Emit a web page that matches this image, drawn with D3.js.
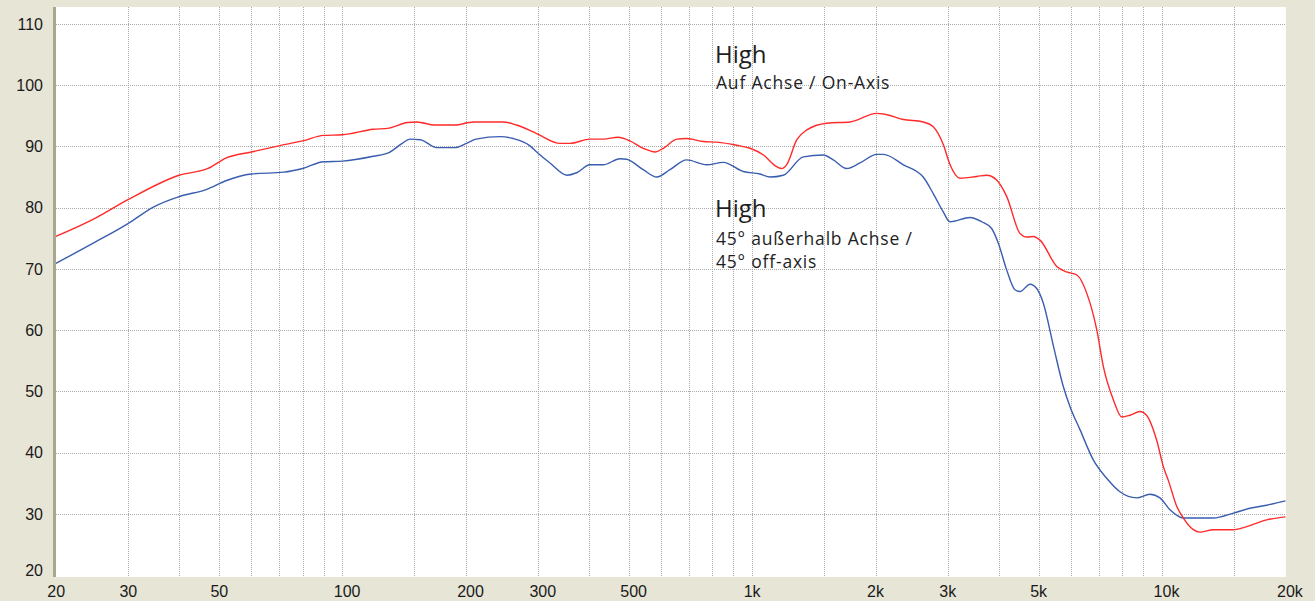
<!DOCTYPE html>
<html>
<head>
<meta charset="utf-8">
<script src="https://cdn.jsdelivr.net/npm/d3@7"></script>
<style>
  html, body { margin: 0; padding: 0; background: #e6e5d6; }
  svg { display: block; }
</style>
</head>
<body>
<div id="chart"></div>
<script>
// Frequency response - High, on-axis vs 45° off-axis

// on-axis (red)
const onAxisFreq = [20, 25, 30, 40, 47, 52, 60, 70, 80, 90, 100, 119, 130, 144, 152, 168, 188, 209, 247, 266, 298, 340, 359, 402, 433, 471, 503, 542, 580, 607, 655, 692, 760, 819, 916, 988, 1065, 1148, 1180, 1213, 1285, 1359, 1520, 1734, 2013, 2090, 2338, 2613, 2765, 2925, 3035, 3214, 3531, 3736, 3948, 4178, 4500, 4675, 4852, 5036, 5534, 5850, 6194, 6551, 6930, 7192, 7607, 7975, 8350, 8831, 9161, 9700, 10070, 10350, 10860, 11270, 11920, 12370, 13340, 14930, 16080, 17990, 20000];
const onAxisDb = [75.3, 78.3, 81.3, 85.3, 86.4, 88.1, 89.1, 90.1, 90.9, 91.8, 91.9, 92.8, 93.0, 93.9, 94.0, 93.5, 93.5, 94.0, 94.0, 93.5, 92.1, 90.5, 90.5, 91.2, 91.2, 91.5, 90.9, 89.7, 89.1, 89.7, 91.2, 91.3, 90.8, 90.7, 90.2, 89.7, 88.6, 86.7, 86.4, 87.0, 91.1, 92.7, 93.8, 94.0, 95.4, 95.3, 94.4, 94.0, 93.2, 90.3, 87.1, 84.8, 85.1, 85.3, 84.5, 81.8, 75.8, 75.2, 75.3, 74.7, 70.4, 69.5, 69.0, 66.0, 60.0, 54.0, 48.6, 45.8, 46.1, 46.7, 46.1, 42.0, 37.7, 35.5, 31.2, 29.3, 27.4, 27.0, 27.4, 27.4, 27.9, 29.0, 29.5];

// 45° off-axis (blue)
const offAxisFreq = [20, 25, 30, 34.6, 40, 46.7, 52, 60, 72, 80, 90, 100, 119, 130, 140, 146, 155, 170, 188, 201, 212, 243, 261, 287, 298, 321, 353, 373, 402, 433, 476, 494, 542, 585, 630, 692, 774, 850, 951, 1045, 1105, 1191, 1333, 1490, 1577, 1700, 1832, 2013, 2090, 2338, 2613, 2765, 2925, 3035, 3400, 3630, 3838, 3985, 4178, 4376, 4500, 4762, 4944, 5131, 5435, 5740, 5962, 6309, 6794, 7324, 7890, 8671, 9338, 9880, 10470, 11270, 13340, 14930, 16370, 17990, 20000];
const offAxisDb = [70.9, 74.4, 77.4, 80.1, 81.8, 83.0, 84.4, 85.5, 85.8, 86.4, 87.5, 87.6, 88.4, 89.0, 90.5, 91.2, 91.1, 89.8, 89.8, 90.5, 91.2, 91.6, 91.3, 90.1, 89.1, 87.3, 85.3, 85.7, 87.0, 87.0, 88.0, 87.9, 86.2, 85.0, 86.2, 87.8, 87.0, 87.4, 85.9, 85.5, 85.0, 85.3, 88.3, 88.6, 87.8, 86.4, 87.3, 88.7, 88.7, 87.0, 85.0, 82.3, 79.3, 77.7, 78.4, 77.7, 76.6, 74.2, 69.8, 66.6, 66.3, 67.5, 66.8, 64.4, 57.3, 50.8, 47.5, 43.7, 38.8, 35.8, 33.6, 32.6, 33.2, 32.6, 30.6, 29.3, 29.3, 30.1, 30.9, 31.4, 32.1];

const dbTicks = [20, 30, 40, 50, 60, 70, 80, 90, 100, 110];
const freqGrid = [30, 40, 50, 60, 70, 80, 90, 100, 150, 200, 300, 400, 500, 600, 700, 800, 900,
                  1000, 1500, 2000, 3000, 4000, 5000, 6000, 7000, 8000, 9000, 10000, 15000];
const freqLabels = [20, 30, 50, 100, 200, 300, 500, 1000, 2000, 3000, 5000, 10000, 20000];

const width = 1315;
const height = 601;
const plot = {left: 56, right: 1286, top: 7, bottom: 577};

const svg = d3.select("#chart")
    .append("svg")
    .attr("width", width)
    .attr("height", height);

svg.append("rect")
    .attr("width", width)
    .attr("height", height)
    .attr("fill", "#e6e5d6");

svg.append("rect")
    .attr("x", plot.left)
    .attr("y", plot.top)
    .attr("width", plot.right - plot.left)
    .attr("height", plot.bottom - plot.top)
    .attr("fill", "#ffffff");

// left axis bar
svg.append("rect")
    .attr("x", 53)
    .attr("y", plot.top)
    .attr("width", 3)
    .attr("height", plot.bottom - plot.top)
    .attr("fill", "#a9a790");

const x = d3.scaleLog().domain([20, 20000]).range([55.8, 1285.5]);
const y = d3.scaleLinear().domain([20, 110]).range([575, 24]);

// grid
const grid = svg.append("g")
    .attr("stroke", "#a8a8a8")
    .attr("stroke-width", 1)
    .attr("stroke-dasharray", "1,1")
    .attr("shape-rendering", "crispEdges");

grid.selectAll("line.v")
    .data(freqGrid)
    .join("line")
    .attr("class", "v")
    .attr("x1", d => Math.round(x(d)) + 0.5)
    .attr("x2", d => Math.round(x(d)) + 0.5)
    .attr("y1", plot.top)
    .attr("y2", plot.bottom);

grid.selectAll("line.h")
    .data(dbTicks.filter(d => d > 20))
    .join("line")
    .attr("class", "h")
    .attr("x1", plot.left)
    .attr("x2", plot.right)
    .attr("y1", d => Math.round(y(d)) + 0.5)
    .attr("y2", d => Math.round(y(d)) + 0.5);

// axis labels
const fmtFreq = d => d >= 1000 ? (d / 1000) + "k" : String(d);

svg.append("g")
    .selectAll("text")
    .data(dbTicks)
    .join("text")
    .attr("x", 43)
    .attr("y", d => Math.min(y(d), 570))
    .attr("dy", "0.36em")
    .attr("text-anchor", "end")
    .attr("font-family", "Liberation Sans, Arial, sans-serif")
    .attr("font-size", 16)
    .attr("fill", "#1a1a1a")
    .text(d => d);

svg.append("g")
    .selectAll("text")
    .data(freqLabels)
    .join("text")
    .attr("x", d => x(d) - 8.5)
    .attr("y", 597)
    .attr("text-anchor", "start")
    .attr("font-family", "Liberation Sans, Arial, sans-serif")
    .attr("font-size", 16)
    .attr("fill", "#1a1a1a")
    .text(fmtFreq);

// curves
svg.append("clipPath")
    .attr("id", "plot-clip")
    .append("rect")
    .attr("x", plot.left)
    .attr("y", plot.top)
    .attr("width", plot.right - plot.left)
    .attr("height", plot.bottom - plot.top);

const line = d3.line()
    .x(d => x(d[0]))
    .y(d => y(d[1]))
    .curve(d3.curveMonotoneX);

const series = [
    {freq: offAxisFreq, db: offAxisDb, color: "#3a5db0"},
    {freq: onAxisFreq, db: onAxisDb, color: "#ff2a2a"}
];

svg.append("g")
    .attr("clip-path", "url(#plot-clip)")
    .selectAll("path")
    .data(series)
    .join("path")
    .attr("d", s => line(d3.zip(s.freq, s.db)))
    .attr("fill", "none")
    .attr("stroke", s => s.color)
    .attr("stroke-width", 1.4);

// annotations
const note = svg.append("g")
    .attr("font-family", "'Open Sans', Lato, sans-serif")
    .attr("font-weight", 400)
    .attr("fill", "#1e1e1e");

note.append("text").attr("x", 715).attr("y", 63).attr("font-size", 24).text("High");
note.append("text").attr("x", 716).attr("y", 89).attr("font-size", 17.5).attr("letter-spacing", 0.8).text("Auf Achse / On-Axis");
note.append("text").attr("x", 715).attr("y", 217).attr("font-size", 24).text("High");
note.append("text").attr("x", 716).attr("y", 245).attr("font-size", 17.5).attr("letter-spacing", 0.8).text("45° außerhalb Achse /");
note.append("text").attr("x", 716).attr("y", 268).attr("font-size", 17.5).attr("letter-spacing", 0.8).text("45° off-axis");
</script>
</body>
</html>
